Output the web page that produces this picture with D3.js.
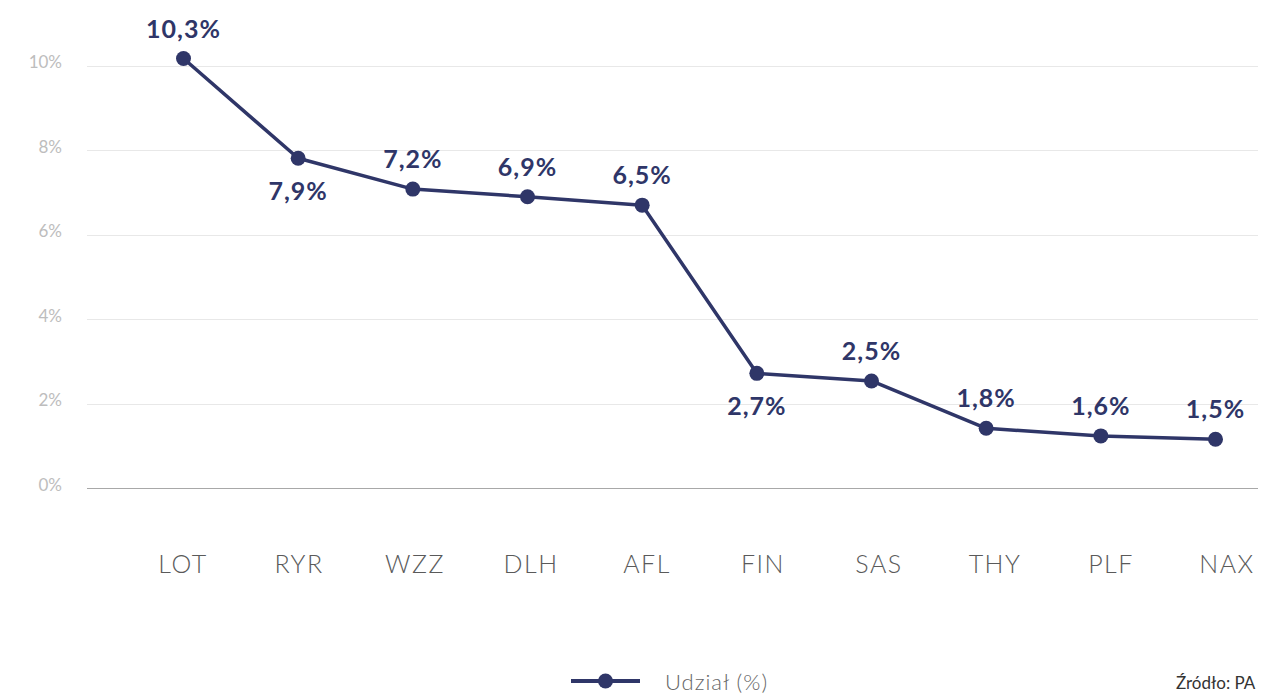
<!DOCTYPE html>
<html>
<head>
<meta charset="utf-8">
<script src="https://cdn.jsdelivr.net/npm/d3@7"></script>
<style>
  html, body { margin: 0; padding: 0; background: #fff; overflow: hidden; }
  svg { display: block; }
</style>
</head>
<body>
<svg id="chart" width="1262" height="693"></svg>
<script>
// Data
const categories = ["LOT", "RYR", "WZZ", "DLH", "AFL", "FIN", "SAS", "THY", "PLF", "NAX"];
const values = [10.17, 7.81, 7.08, 6.90, 6.70, 2.72, 2.54, 1.42, 1.24, 1.16];
const valueLabels = ["10,3%", "7,9%", "7,2%", "6,9%", "6,5%", "2,7%", "2,5%", "1,8%", "1,6%", "1,5%"];
const labelBelow = [false, true, false, false, false, true, false, false, false, false];
const yTicks = [0, 2, 4, 6, 8, 10];
const seriesName = "Udział (%)";
const sourceText = "Źródło: PA";

const navy = "#2f3668";
const svg = d3.select("#chart");

const x = d3.scalePoint().domain(categories).range([183.5, 1215.5]);
const xLabel = d3.scalePoint().domain(categories).range([183, 1227]);
const y = d3.scaleLinear().domain([0, 10]).range([488.3, 65.7]);

// Gridlines
const gridLeft = 87, gridRight = 1258;
svg.append("g").selectAll("line")
  .data(yTicks)
  .join("line")
  .attr("x1", gridLeft).attr("x2", gridRight)
  .attr("y1", d => Math.round(y(d)) + 0.5).attr("y2", d => Math.round(y(d)) + 0.5)
  .attr("stroke", d => d === 0 ? "#a8a8a8" : "#e8e8e8")
  .attr("stroke-width", 1);

// Y tick labels
svg.append("g").selectAll("text")
  .data(yTicks)
  .join("text")
  .attr("x", 62)
  .attr("y", d => y(d) - 4)
  .attr("text-anchor", "end")
  .attr("dominant-baseline", "central")
  .attr("font-family", "Lato, sans-serif")
  .attr("font-size", 17)
  .attr("fill", "#bdbdbd")
  .text(d => d + "%");

// X category labels
svg.append("g").selectAll("text")
  .data(categories)
  .join("text")
  .attr("x", d => xLabel(d))
  .attr("y", 563)
  .attr("text-anchor", "middle")
  .attr("dominant-baseline", "central")
  .attr("font-family", "Lato, sans-serif")
  .attr("font-weight", 300)
  .attr("font-size", 25)
  .attr("letter-spacing", 1.5)
  .attr("fill", "#5a5a5a")
  .text(d => d);

// Line
const line = d3.line()
  .x((d, i) => x(categories[i]))
  .y(d => y(d));
svg.append("path")
  .datum(values)
  .attr("d", line)
  .attr("fill", "none")
  .attr("stroke", navy)
  .attr("stroke-width", 3.5)
  .attr("stroke-linejoin", "round");

// Points
svg.append("g").selectAll("circle")
  .data(values)
  .join("circle")
  .attr("cx", (d, i) => x(categories[i]))
  .attr("cy", d => y(d))
  .attr("r", 7.5)
  .attr("fill", navy);

// Value labels
svg.append("g").selectAll("text")
  .data(values)
  .join("text")
  .attr("x", (d, i) => x(categories[i]))
  .attr("y", (d, i) => y(d) + (labelBelow[i] ? 32 : -31))
  .attr("text-anchor", "middle")
  .attr("dominant-baseline", "central")
  .attr("font-family", "Lato, sans-serif")
  .attr("font-weight", 700)
  .attr("font-size", 25)
  .attr("letter-spacing", 1)
  .attr("fill", navy)
  .text((d, i) => valueLabels[i]);

// Legend
const leg = svg.append("g");
leg.append("line")
  .attr("x1", 571).attr("x2", 640)
  .attr("y1", 681).attr("y2", 681)
  .attr("stroke", navy).attr("stroke-width", 4);
leg.append("circle")
  .attr("cx", 605.5).attr("cy", 681).attr("r", 7.5)
  .attr("fill", navy);
leg.append("text")
  .attr("x", 665).attr("y", 681)
  .attr("dominant-baseline", "central")
  .attr("font-family", "Lato, sans-serif")
  .attr("font-weight", 300)
  .attr("font-size", 22)
  .attr("letter-spacing", 1)
  .attr("fill", "#666")
  .text(seriesName);

// Source
svg.append("text")
  .attr("x", 1176).attr("y", 682)
  .attr("dominant-baseline", "central")
  .attr("font-family", "Lato, sans-serif")
  .attr("font-size", 17)
  .attr("fill", "#333")
  .text(sourceText);
</script>
</body>
</html>
